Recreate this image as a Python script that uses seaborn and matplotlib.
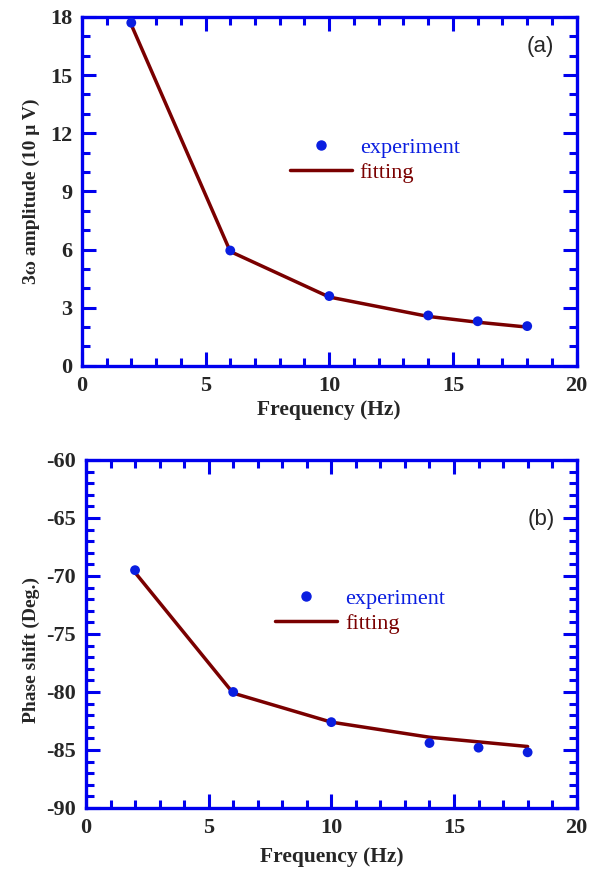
"""
3-omega amplitude and phase shift versus frequency, experiment vs fitting.
"""

import numpy as np
import pandas as pd
import matplotlib
matplotlib.use("Agg")
import matplotlib.pyplot as plt
import seaborn as sns
from matplotlib.lines import Line2D
from matplotlib.ticker import MultipleLocator

freq = [2, 6, 10, 14, 16, 18]
amp_exp = [17.7, 5.95, 3.6, 2.6, 2.3, 2.05]
amp_fit = [17.6, 5.9, 3.55, 2.55, 2.25, 2.0]
phase_exp = [-69.5, -80.0, -82.6, -84.4, -84.8, -85.2]
phase_fit = [-69.7, -80.1, -82.6, -83.9, -84.3, -84.7]

AXIS_BLUE = "#0000ee"
DOT_BLUE = "#0a1ee0"
FIT_RED = "#7a0000"

sns.set_theme(style="ticks")
plt.rcParams['font.family'] = ['Liberation Serif', 'DejaVu Serif']
plt.rcParams['axes.unicode_minus'] = False

fig = plt.figure(figsize=(5.97, 8.69), dpi=100)
ax_a = fig.add_axes([0.137, 0.579, 0.829, 0.4015])
ax_b = fig.add_axes([0.144, 0.0702, 0.822, 0.4005])

df_a = pd.DataFrame({'f': freq, 'exp': amp_exp, 'fit': amp_fit})
df_b = pd.DataFrame({'f': freq, 'exp': phase_exp, 'fit': phase_fit})


def style_axes(ax, ylim, ymajor, yminor, ylabel, ylabel_xy, xlabelpad, tag, tag_y, leg_anchor):
    ax.set_xlim(0, 20)
    ax.set_ylim(*ylim)
    ax.xaxis.set_major_locator(MultipleLocator(5))
    ax.xaxis.set_minor_locator(MultipleLocator(1))
    ax.yaxis.set_major_locator(MultipleLocator(ymajor))
    ax.yaxis.set_minor_locator(MultipleLocator(yminor))
    ax.tick_params(which='both', direction='in', top=True, right=True,
                   color=AXIS_BLUE, width=2.2, labelsize=16, pad=7)
    ax.tick_params(which='major', length=10)
    ax.tick_params(which='minor', length=5.5)
    for lab in ax.get_xticklabels() + ax.get_yticklabels():
        lab.set_fontweight('bold')
    for sp in ax.spines.values():
        sp.set_visible(True)
        sp.set_color(AXIS_BLUE)
        sp.set_linewidth(2.4)
    ax.set_xlabel('Frequency (Hz)', fontsize=15.5, fontweight='bold', labelpad=xlabelpad)
    ax.set_ylabel(ylabel, fontsize=14, fontweight='bold')
    ax.yaxis.set_label_coords(*ylabel_xy)
    ax.text(0.955, tag_y, tag, transform=ax.transAxes, ha='right', va='center',
            fontsize=16, family=['Liberation Sans', 'DejaVu Sans'])
    handles = [
        Line2D([], [], linestyle='none', marker='o', color=DOT_BLUE, markersize=6.5),
        Line2D([], [], color=FIT_RED, linewidth=2.5),
    ]
    ax.legend(handles, ['experiment', 'fitting'], loc='upper left',
              bbox_to_anchor=leg_anchor, frameon=False, fontsize=16,
              handlelength=2.8, handletextpad=0.35, labelspacing=0.2,
              labelcolor=[DOT_BLUE, FIT_RED], borderpad=0, borderaxespad=0)


sns.lineplot(data=df_a, x='f', y='fit', ax=ax_a, color=FIT_RED, linewidth=2.5)
sns.scatterplot(data=df_a, x='f', y='exp', ax=ax_a, color=DOT_BLUE, s=50,
                edgecolor='none', zorder=3)
style_axes(ax_a, (0, 18), 3, 1, '3\u03c9 amplitude (10 \u03bc V)', (-0.085, 0.5), 3,
           '(a)', 0.915, (0.42, 0.655))

sns.lineplot(data=df_b, x='f', y='fit', ax=ax_b, color=FIT_RED, linewidth=2.5)
sns.scatterplot(data=df_b, x='f', y='exp', ax=ax_b, color=DOT_BLUE, s=50,
                edgecolor='none', zorder=3)
style_axes(ax_b, (-90, -60), 5, 1, 'Phase shift (Deg.)', (-0.094, 0.454), 7,
           '(b)', 0.828, (0.385, 0.632))

fig.savefig('out.png', dpi=100)
